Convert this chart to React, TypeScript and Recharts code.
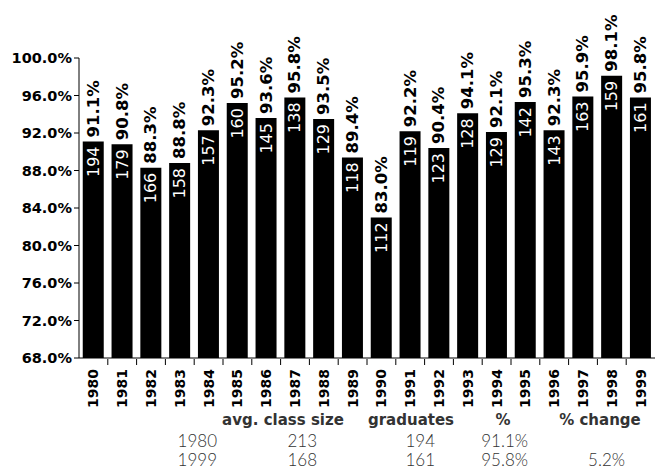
import { Bar, BarChart, LabelList, XAxis, YAxis } from "recharts";

const years = [
  "1980", "1981", "1982", "1983", "1984", "1985", "1986", "1987", "1988", "1989",
  "1990", "1991", "1992", "1993", "1994", "1995", "1996", "1997", "1998", "1999",
];
const gradPct = [
  91.1, 90.8, 88.3, 88.8, 92.3, 95.2, 93.6, 95.8, 93.5, 89.4,
  83.0, 92.2, 90.4, 94.1, 92.1, 95.3, 92.3, 95.9, 98.1, 95.8,
];
const graduates = [
  194, 179, 166, 158, 157, 160, 145, 138, 129, 118,
  112, 119, 123, 128, 129, 142, 143, 163, 159, 161,
];
const yTicks = [68, 72, 76, 80, 84, 88, 92, 96, 100];

const tableHeaders = ["avg. class size", "graduates", "%", "% change"];
const tableRows = [
  ["1980", "213", "194", "91.1%", ""],
  ["1999", "168", "161", "95.8%", "5.2%"],
];

const data = years.map((year, i) => ({
  year,
  pct: gradPct[i],
  grads: graduates[i],
}));

const W = 655;
const H = 471;
const AXIS_W = 79;
const FONT = "'DejaVu Sans', sans-serif";
const STEP = (W - AXIS_W) / years.length;

function PctLabel(props: any) {
  const { x, y, width, value } = props;
  const cx = x + width / 2;
  const ty = y - 4;
  return (
    <text
      x={cx}
      y={ty}
      transform={`rotate(-90, ${cx}, ${ty})`}
      textAnchor="start"
      dominantBaseline="central"
      fontFamily={FONT}
      fontWeight="bold"
      fontSize={16.5}
      fill="#000"
    >
      {Number(value).toFixed(1)}%
    </text>
  );
}

function CountLabel(props: any) {
  const { x, y, width, value } = props;
  const cx = x + width / 2;
  const ty = y + 5;
  return (
    <text
      x={cx}
      y={ty}
      transform={`rotate(-90, ${cx}, ${ty})`}
      textAnchor="end"
      dominantBaseline="central"
      fontFamily={FONT}
      fontSize={16}
      fill="#fff"
    >
      {value}
    </text>
  );
}

function YearTick(props: any) {
  const { x, y, payload, index } = props;
  const ty = y + 3;
  const bx = x - STEP / 2;
  return (
    <g>
      {index > 0 && (
        <line x1={bx} x2={bx} y1={y - 7} y2={y - 1} stroke="#000" strokeWidth={1} />
      )}
      <text
        x={x}
        y={ty}
        transform={`rotate(-90, ${x}, ${ty})`}
        textAnchor="end"
        dominantBaseline="central"
        fontFamily={FONT}
        fontWeight="bold"
        fontSize={14}
        fill="#000"
      >
        {payload.value}
      </text>
    </g>
  );
}

const headerX = [283, 411, 503, 600];
const cellX = [217, 317, 435, 528, 625];

export default function App() {
  return (
    <div style={{ position: "absolute", left: 0, top: 0, width: W, height: H, background: "#fff" }}>
      <BarChart
        width={W}
        height={H}
        data={data}
        margin={{ top: 58, right: 0, bottom: 63, left: 0 }}
        barCategoryGap="13%"
      >
        <YAxis
          domain={[68, 100]}
          ticks={yTicks}
          width={AXIS_W}
          tickFormatter={(v: number) => `${v.toFixed(1)}%`}
          tick={{ fontSize: 14.5, fontWeight: "bold", fill: "#000", fontFamily: FONT }}
          tickSize={5}
          axisLine={{ stroke: "#000" }}
          tickLine={{ stroke: "#000" }}
          allowDataOverflow
        />
        <XAxis
          dataKey="year"
          interval={0}
          height={50}
          tick={<YearTick />}
          tickLine={false}
          axisLine={{ stroke: "#000" }}
        />
        <Bar dataKey="pct" fill="#000" isAnimationActive={false}>
          <LabelList dataKey="pct" content={<PctLabel />} />
          <LabelList dataKey="grads" content={<CountLabel />} />
        </Bar>
      </BarChart>
      <svg
        width={W}
        height={H - 400}
        style={{ position: "absolute", left: 0, top: 400 }}
      >
        {tableHeaders.map((h, i) => (
          <text
            key={h}
            x={headerX[i]}
            y={25}
            textAnchor="middle"
            fontFamily={FONT}
            fontWeight="bold"
            fontSize={15}
            fill="#333"
          >
            {h}
          </text>
        ))}
        {tableRows.map((row, r) =>
          row.map((cell, c) => (
            <text
              key={`${r}-${c}`}
              x={cellX[c]}
              y={47 + r * 19}
              textAnchor="end"
              fontFamily="Lato, sans-serif"
              fontWeight={300}
              fontSize={17}
              fill="#333"
            >
              {cell}
            </text>
          ))
        )}
      </svg>
    </div>
  );
}
